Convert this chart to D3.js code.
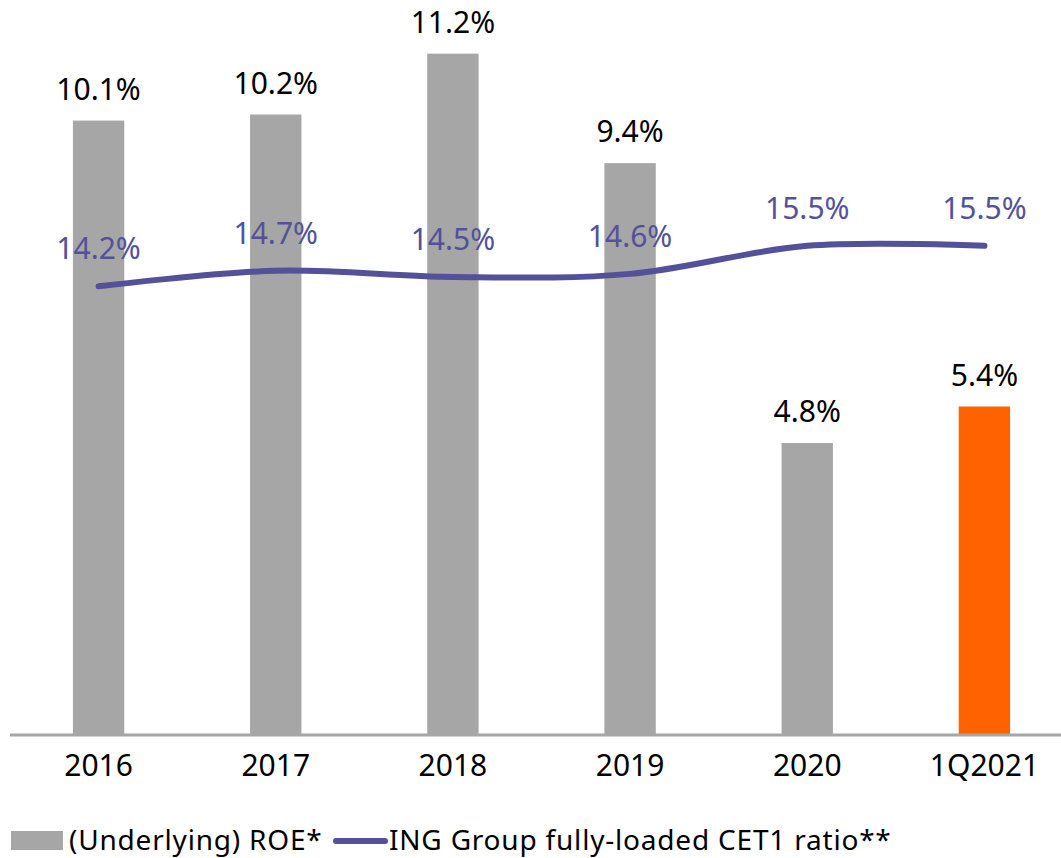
<!DOCTYPE html>
<html>
<head>
<meta charset="utf-8">
<script src="https://cdn.jsdelivr.net/npm/d3@7"></script>
<style>
  body { margin: 0; background: #fff; }
  svg { display: block; }
  text { font-family: 'Noto Sans', 'Open Sans', sans-serif; }
</style>
</head>
<body>
<div id="chart"></div>
<script>
// data
var categories = ['2016', '2017', '2018', '2019', '2020', '1Q2021'];
var roeValues = [10.1, 10.2, 11.2, 9.4, 4.8, 5.4];
var cet1Values = [14.2, 14.7, 14.5, 14.6, 15.5, 15.5];
var roeLabels = ['10.1%', '10.2%', '11.2%', '9.4%', '4.8%', '5.4%'];
var cet1Labels = ['14.2%', '14.7%', '14.5%', '14.6%', '15.5%', '15.5%'];
var legendNames = ['(Underlying) ROE*', 'ING Group fully-loaded CET1 ratio**'];

var width = 1061;
var height = 858;
var baseline = 735;

var grey = '#a6a6a6';
var orange = '#ff6200';
var purple = '#525199';

var svg = d3.select('#chart')
    .append('svg')
    .attr('width', width)
    .attr('height', height);

var x = d3.scaleBand()
    .domain(categories)
    .range([10, 1073])
    .paddingInner(0.71)
    .paddingOuter(0.355);

var y = d3.scaleLinear()
    .domain([0, 12])
    .range([baseline, 5]);

// secondary axis for the line (not drawn)
var y2 = d3.scaleLinear()
    .domain([-0.2, 23.23])
    .range([baseline, 5]);

//bars
svg.append('g')
    .selectAll('rect')
    .data(categories)
    .enter()
    .append('rect')
    .attr('x', function(d){ return x(d); })
    .attr('y', function(d, i){ return y(roeValues[i]); })
    .attr('width', x.bandwidth())
    .attr('height', function(d, i){ return baseline - y(roeValues[i]); })
    .style('fill', function(d, i){ return i === categories.length - 1 ? orange : grey; });

// x axis
var xAxis = svg.append('g')
    .attr('transform', 'translate(0,' + baseline + ')')
    .call(d3.axisBottom(x).tickSize(0).tickPadding(20));
xAxis.select('.domain').remove();
xAxis.append('line')
    .attr('x1', 10)
    .attr('x2', width)
    .attr('y1', 0)
    .attr('y2', 0)
    .style('stroke', grey)
    .style('stroke-width', 3);
xAxis.selectAll('text')
    .style('font-size', '30px')
    .style('fill', '#000')
    .style('font-family', "'Noto Sans', sans-serif")
    .attr('dy', '0.71em');

// bar labels
svg.append('g')
    .selectAll('text')
    .data(categories)
    .enter()
    .append('text')
    .attr('x', function(d){ return x(d) + x.bandwidth() / 2; })
    .attr('y', function(d, i){ return y(roeValues[i]) - 21; })
    .attr('text-anchor', 'middle')
    .style('font-size', '30px')
    .style('fill', '#000')
    .text(function(d, i){ return roeLabels[i]; });

// line
var line = d3.line()
    .x(function(d, i){ return x(categories[i]) + x.bandwidth() / 2; })
    .y(function(d){ return y2(d); })
    .curve(d3.curveCardinal.tension(0));

svg.append('path')
    .datum(cet1Values)
    .attr('d', line)
    .style('fill', 'none')
    .style('stroke', purple)
    .style('stroke-width', 6)
    .style('stroke-linecap', 'round');

// line labels
svg.append('g')
    .selectAll('text')
    .data(cet1Values)
    .enter()
    .append('text')
    .attr('x', function(d, i){ return x(categories[i]) + x.bandwidth() / 2; })
    .attr('y', function(d){ return y2(d) - 27; })
    .attr('text-anchor', 'middle')
    .style('font-size', '30px')
    .style('fill', purple)
    .text(function(d, i){ return cet1Labels[i]; });

// legend
var legend = svg.append('g');
legend.append('rect')
    .attr('x', 11)
    .attr('y', 831)
    .attr('width', 52)
    .attr('height', 19)
    .style('fill', grey);
legend.append('text')
    .attr('x', 69)
    .attr('y', 850)
    .style('font-size', '28px')
    .style('letter-spacing', '0.8px')
    .style('fill', '#000')
    .text(legendNames[0]);
legend.append('line')
    .attr('x1', 336)
    .attr('x2', 385)
    .attr('y1', 841)
    .attr('y2', 841)
    .style('stroke', purple)
    .style('stroke-width', 6)
    .style('stroke-linecap', 'round');
legend.append('text')
    .attr('x', 389)
    .attr('y', 850)
    .style('font-size', '28px')
    .style('letter-spacing', '0.8px')
    .style('fill', '#000')
    .text(legendNames[1]);
</script>
</body>
</html>
